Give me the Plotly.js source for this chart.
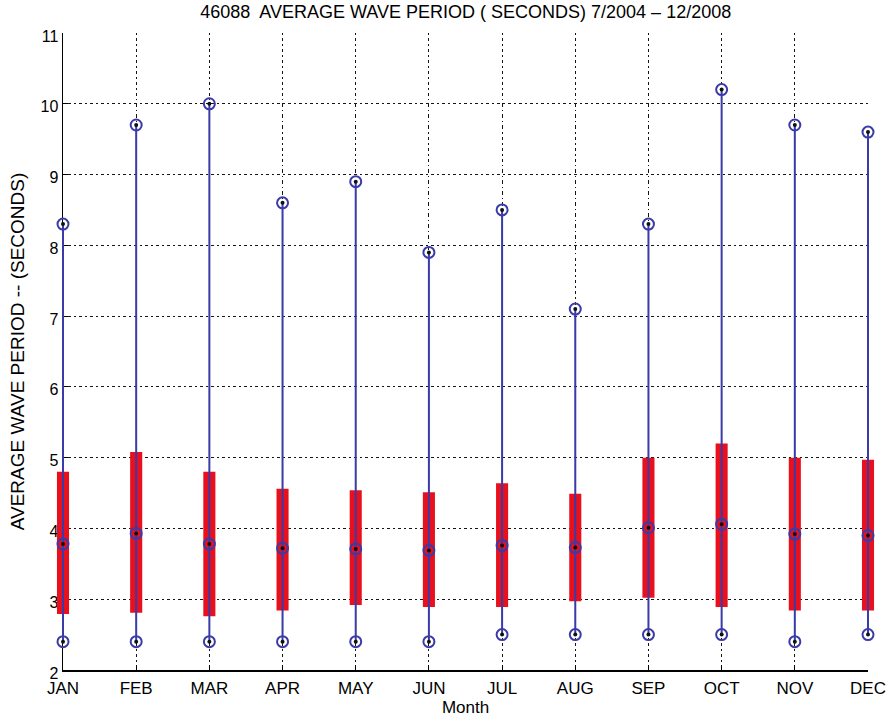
<!DOCTYPE html>
<html>
<head>
<meta charset="utf-8">
<script src="https://cdn.plot.ly/plotly-3.0.1.min.js"></script>
<style>
  html, body { margin: 0; padding: 0; background: #ffffff; }
  #chart { width: 888px; height: 717px; }
</style>
</head>
<body>
<div id="chart"></div>
<script>
// Monthly statistics of average wave period at buoy 46088 (seconds)
const months = ['JAN', 'FEB', 'MAR', 'APR', 'MAY', 'JUN', 'JUL', 'AUG', 'SEP', 'OCT', 'NOV', 'DEC'];
const maxPeriod = [8.3, 9.7, 10.0, 8.6, 8.9, 7.9, 8.5, 7.1, 8.3, 10.2, 9.7, 9.6];
const upperQuartile = [4.80, 5.08, 4.80, 4.56, 4.54, 4.51, 4.64, 4.49, 5.00, 5.20, 5.00, 4.97];
const medianPeriod = [3.78, 3.93, 3.78, 3.72, 3.71, 3.69, 3.76, 3.73, 4.01, 4.06, 3.92, 3.90];
const lowerQuartile = [2.79, 2.81, 2.76, 2.84, 2.92, 2.89, 2.89, 2.97, 3.02, 2.89, 2.84, 2.84];
const minPeriod = [2.4, 2.4, 2.4, 2.4, 2.4, 2.4, 2.5, 2.5, 2.5, 2.5, 2.4, 2.5];

const monthIndex = months.map((_, i) => i + 1);

const BLUE = '#3a3aa8';
const RED = '#e8101c';
const FONT = 'Liberation Sans, Arial, sans-serif';

// Page geometry: the visible axes span 63..868 px; the data layer gets a
// slightly wider, invisible subplot so the end-month boxes are not cut off.
const W = 888, H = 717;
const marginL = 50, marginR = 7;
const axisLeftPx = 63, axisRightPx = 868;
const plotW = W - marginL - marginR;
const xMin = 1, xMax = months.length;
const unitsPerPx = (xMax - xMin) / (axisRightPx - axisLeftPx);
const padL = (axisLeftPx - marginL) * unitsPerPx;
const padR = (W - marginR - axisRightPx) * unitsPerPx;
const mainDomain = [(axisLeftPx - marginL) / plotW, (axisRightPx - marginL) / plotW];

// whisker segments min -> max, separated by gaps
const whiskX = [], whiskY = [];
monthIndex.forEach((m, i) => {
  whiskX.push(m, m, null);
  whiskY.push(minPeriod[i], maxPeriod[i], null);
});

// all marker positions: max, median, min
const markX = [...monthIndex, ...monthIndex, ...monthIndex];
const markY = [...maxPeriod, ...medianPeriod, ...minPeriod];

const traces = [
  {
    // invisible trace that keeps the framed axes drawn
    type: 'scatter', mode: 'none', x: [xMin, xMax], y: [2, 11],
    xaxis: 'x', yaxis: 'y', hoverinfo: 'skip'
  },
  {
    // interquartile boxes
    type: 'bar',
    x: monthIndex,
    base: lowerQuartile,
    y: upperQuartile.map((v, i) => v - lowerQuartile[i]),
    width: 0.165,
    marker: { color: RED, line: { width: 0 } },
    xaxis: 'x2', yaxis: 'y2',
    hoverinfo: 'skip'
  },
  {
    type: 'scatter',
    mode: 'lines',
    x: whiskX,
    y: whiskY,
    line: { color: BLUE, width: 2 },
    connectgaps: false,
    xaxis: 'x2', yaxis: 'y2',
    hoverinfo: 'skip'
  },
  {
    type: 'scatter',
    mode: 'markers',
    x: markX,
    y: markY,
    marker: { symbol: 'circle-open', size: 11, color: BLUE, line: { width: 2, color: BLUE } },
    cliponaxis: false,
    xaxis: 'x2', yaxis: 'y2',
    hoverinfo: 'skip'
  },
  {
    type: 'scatter',
    mode: 'markers',
    x: markX,
    y: markY,
    marker: { symbol: 'circle', size: 4, color: '#111111' },
    cliponaxis: false,
    xaxis: 'x2', yaxis: 'y2',
    hoverinfo: 'skip'
  }
];

const gridDash = '1.5px,3px,3.5px,3px';

const layout = {
  width: W,
  height: H,
  margin: { l: marginL, r: marginR, t: 33, b: 47 },
  paper_bgcolor: '#ffffff',
  plot_bgcolor: 'rgba(0,0,0,0)',
  showlegend: false,
  barmode: 'overlay',
  font: { family: FONT, size: 17, color: '#000000' },
  title: {
    text: '46088  AVERAGE WAVE PERIOD ( SECONDS) 7/2004 – 12/2008',
    font: { family: FONT, size: 18, color: '#000000' },
    x: 0.5245, xanchor: 'center',
    y: 0.983, yanchor: 'middle'
  },
  xaxis: {
    domain: mainDomain,
    range: [xMin, xMax],
    tickvals: monthIndex,
    ticktext: months,
    ticks: 'inside',
    ticklen: 5,
    tickcolor: '#000000',
    tickwidth: 1,
    showline: true,
    linecolor: '#000000',
    linewidth: 1.5,
    showgrid: true,
    gridcolor: '#151515',
    gridwidth: 1.1,
    griddash: gridDash,
    zeroline: false,
    ticklabelstandoff: 2,
    tickfont: { family: FONT, size: 17, color: '#000000' },
    title: { text: 'Month', font: { family: FONT, size: 17, color: '#000000' }, standoff: 2 }
  },
  yaxis: {
    range: [2, 11],
    dtick: 1,
    tick0: 2,
    ticks: 'inside',
    ticklen: 5,
    tickcolor: '#000000',
    tickwidth: 1,
    showline: true,
    linecolor: '#000000',
    linewidth: 1.5,
    showgrid: true,
    gridcolor: '#151515',
    gridwidth: 1.1,
    griddash: gridDash,
    zeroline: false,
    ticklabelshift: 3,
    tickfont: { family: FONT, size: 16, color: '#000000' },
    title: { text: 'AVERAGE WAVE PERIOD -- (SECONDS)', font: { family: FONT, size: 19, color: '#000000' }, standoff: 11 }
  },
  xaxis2: {
    domain: [0, 1],
    anchor: 'y2',
    range: [xMin - padL, xMax + padR],
    visible: false,
    fixedrange: true
  },
  yaxis2: {
    domain: [0, 1],
    anchor: 'x2',
    range: [2, 11],
    visible: false,
    fixedrange: true
  }
};

Plotly.newPlot('chart', traces, layout, { displayModeBar: false, staticPlot: true });
</script>
</body>
</html>
